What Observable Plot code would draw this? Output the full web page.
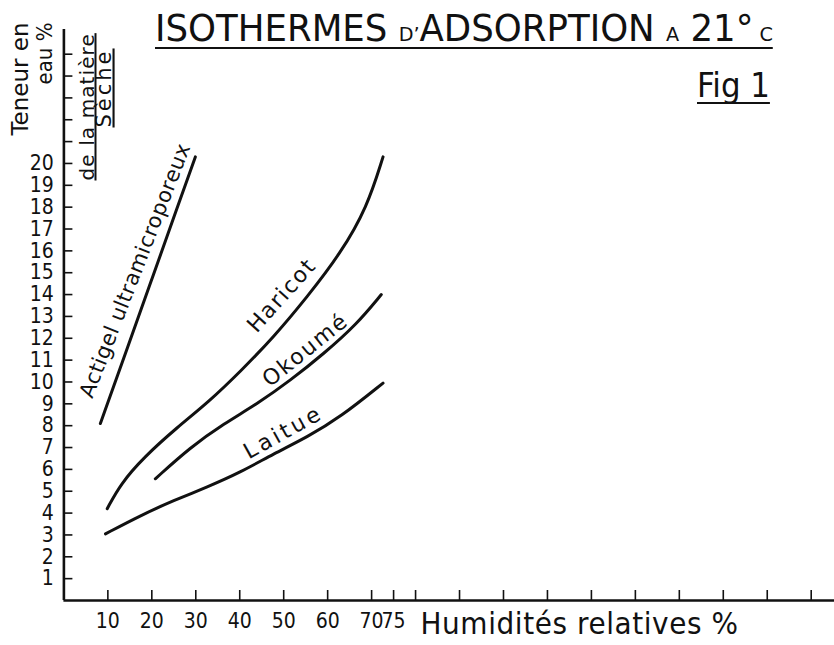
<!DOCTYPE html>
<html><head><meta charset="utf-8">
<script src="https://cdn.jsdelivr.net/npm/d3@7"></script>
<script src="https://cdn.jsdelivr.net/npm/@observablehq/plot@0.6"></script>
<style>
html,body{margin:0;padding:0;background:#fff;}
#wrap{position:relative;width:834px;height:645px;overflow:hidden;background:#fff;}
#title{position:absolute;left:155px;top:10px;display:inline-block;white-space:nowrap;font-family:'DejaVu Sans',sans-serif;font-size:37px;line-height:37px;color:#111;border-bottom:2.5px solid #111;transform-origin:0 0;}
#title .sm{font-size:20px;line-height:0;}
#fig{position:absolute;left:697px;top:69px;display:inline-block;white-space:nowrap;font-family:'DejaVu Sans Condensed','DejaVu Sans',sans-serif;font-size:33px;line-height:33px;color:#111;border-bottom:2px solid #111;transform-origin:0 0;}
</style>
</head><body>
<div id="wrap">
<div id="title">ISOTHERMES <span class="sm">D’</span>ADSORPTION <span class="sm">A</span> 21°<span class="sm"> C</span></div>
<div id="fig">Fig 1</div>
</div>
<script>
// ---- data ----
const xTickValues = [10, 20, 30, 40, 50, 60, 70, 75, 80, 90, 100, 110, 120, 130, 140, 150, 160, 170];
const xLabelValues = [10, 20, 30, 40, 50, 60, 70, 75];
const yTickValues = [1,2,3,4,5,6,7,8,9,10,11,12,13,14,15,16,17,18,19,20,21,22,23,24,25];
const yLabelValues = [1,2,3,4,5,6,7,8,9,10,11,12,13,14,15,16,17,18,19,20];

const actigelX = [8.3, 14, 20, 26, 29.9];
const actigelY = [8.1, 11.3, 14.7, 18.1, 20.3];
const haricotX = [9.85, 12.9, 18.2, 25.8, 32.9, 40.2, 47.7, 55.3, 62.9, 69.0, 72.6];
const haricotY = [4.2, 5.34, 6.56, 7.93, 9.08, 10.49, 12.05, 13.88, 15.87, 18.0, 20.3];
const okoumeX = [20.8, 28.8, 36.4, 44.0, 51.5, 59.1, 66.7, 72.2];
const okoumeY = [5.57, 7.02, 8.09, 9.0, 10.07, 11.29, 12.66, 14.0];
const laitueX = [9.46, 17.4, 25.0, 32.6, 40.2, 47.7, 55.3, 62.9, 72.6];
const laitueY = [3.05, 3.89, 4.58, 5.19, 5.87, 6.71, 7.47, 8.39, 9.95];

const seriesNames = ["Actigel ultramicroporeux", "Haricot", "Okoumé", "Laitue"];
const labelX = [16.24, 49.55, 54.96, 49.95];
const labelY = [15.10, 13.96, 11.46, 7.70];
const labelAngle = [-68.7, -48, -38.6, -29];

const xTitle = "Humidités relatives %";
const yTitle1 = "Teneur en";
const yTitle2 = "eau %";
const yTitle3 = "de la matière";
const yTitle4 = "Sèche";

// ---- build table ----
const curves = [
  [seriesNames[0], actigelX, actigelY],
  [seriesNames[1], haricotX, haricotY],
  [seriesNames[2], okoumeX, okoumeY],
  [seriesNames[3], laitueX, laitueY]
];
const rows = curves.flatMap(([name, xs, ys]) => xs.map((x, i) => ({name, x, y: ys[i]})));
const labels = seriesNames.map((name, i) => ({name, x: labelX[i], y: labelY[i], a: labelAngle[i]}));

const W = 834, H = 645, mT = 29, mB = 45, mL = 63.4, mR = 0;
const frameW = W - mL - mR, frameH = H - mT - mB;
const ink = "#111";
const cond = "'DejaVu Sans Condensed','DejaVu Sans',sans-serif";
const sans = "'DejaVu Sans',sans-serif";

const plot = Plot.plot({
  width: W, height: H,
  marginTop: mT, marginBottom: mB, marginLeft: mL, marginRight: mR,
  x: {domain: [0, 175.3], axis: null},
  y: {domain: [0, 26.13], axis: null},
  style: {fontFamily: cond, fontSize: "21px", color: ink, background: "#fff", overflow: "visible"},
  marks: [
    Plot.ruleX([0], {stroke: ink, strokeWidth: 2.6}),
    Plot.ruleY([0], {stroke: ink, strokeWidth: 2.6}),
    Plot.ruleX(xTickValues, {stroke: ink, strokeWidth: 1.6, insetTop: frameH - 10}),
    Plot.ruleY(yTickValues, {stroke: ink, strokeWidth: 1.6, insetRight: frameW - 9}),
    Plot.axisX({ticks: xLabelValues, tickSize: 0, tickPadding: 13, label: null, fontSize: 21, fontFamily: cond}),
    Plot.axisY({ticks: yLabelValues, tickSize: 0, tickPadding: 10, label: null, fontSize: 21, fontFamily: cond}),
    Plot.line(rows, {x: "x", y: "y", z: "name", stroke: ink, strokeWidth: 3, curve: "basis", strokeLinecap: "round"}),
    Plot.text(labels.slice(0, 1), {x: "x", y: "y", text: "name", rotate: "a", textAnchor: "middle", lineAnchor: "middle", fontSize: 21, fontFamily: sans, fill: ink}),
    Plot.text(labels.slice(1), {x: "x", y: "y", text: "name", rotate: "a", textAnchor: "middle", lineAnchor: "middle", fontSize: 22, fontFamily: sans, fill: ink}),
    Plot.text([xTitle], {frameAnchor: "bottom-left", textAnchor: "start", lineAnchor: "bottom", dx: 420 - mL, dy: 33, fontSize: 31, fontFamily: cond, fill: ink}),
    Plot.text([yTitle1], {frameAnchor: "top-left", rotate: -90, textAnchor: "end", lineAnchor: "bottom", dx: 27 - mL, dy: 22 - mT, fontSize: 23, fontFamily: sans, fill: ink}),
    Plot.text([yTitle2], {frameAnchor: "top-left", rotate: -90, textAnchor: "end", lineAnchor: "bottom", dx: 51 - mL, dy: 22 - mT, fontSize: 22, fontFamily: cond, fill: ink}),
    Plot.text([yTitle3], {frameAnchor: "top-left", rotate: -90, textAnchor: "start", lineAnchor: "bottom", dx: 93 - mL, dy: 180 - mT, fontSize: 20, fontFamily: sans, fill: ink}),
    Plot.text([yTitle4], {frameAnchor: "top-left", rotate: -90, textAnchor: "start", lineAnchor: "bottom", dx: 110 - mL, dy: 127 - mT, fontSize: 21, fontFamily: sans, fill: ink})
  ]
});

const wrap = document.getElementById("wrap");
wrap.insertBefore(plot, wrap.firstChild);

// text styling touches
const spacing = {"Actigel ultramicroporeux": 0.5, "Haricot": 1.6, "Okoumé": 1.9, "Laitue": 3.2, "Sèche": 3, [xTitle]: 0.6, [yTitle3]: 1.1};
d3.select(plot).selectAll("text").each(function () {
  const t = this.textContent;
  if (spacing[t] != null) this.setAttribute("letter-spacing", spacing[t]);
  if (t === yTitle3 || t === yTitle4) this.style.textDecoration = "underline";
});

// fit title widths
function fit(id, target) {
  const el = document.getElementById(id);
  const w = el.getBoundingClientRect().width;
  el.style.transform = `scaleX(${target / w})`;
}
fit("title", 773 - 155);
fit("fig", 770 - 697);
</script>
</body></html>
